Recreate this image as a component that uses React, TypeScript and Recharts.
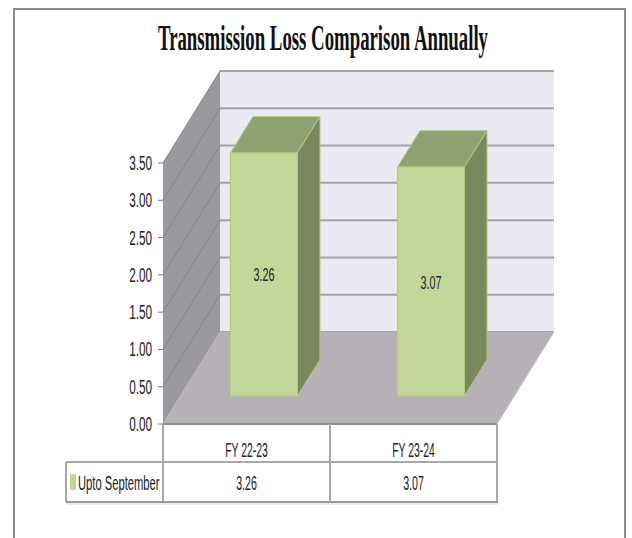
import React from "react";
import * as Recharts from "recharts";
import { BarChart, Bar, XAxis, YAxis, LabelList, Customized } from "recharts";

// chart values
const categories = ["FY 22-23", "FY 23-24"];
const uptoSeptember = [3.26, 3.07];
const seriesName = "Upto September";
const yTicks = [0, 0.5, 1, 1.5, 2, 2.5, 3, 3.5];
const yMax = 3.5;

const data = categories.map((category, i) => ({
  category,
  value: uptoSeptember[i],
}));

// layout of the fake 3D box
const W = 632;
const H = 538;
const Y_AXIS_W = 60;
const X_AXIS_H = 40;
const MARGIN = { top: 163, right: 135, bottom: 538 - 424 - X_AXIS_H, left: 163 - Y_AXIS_W };
const FALLBACK_AREA = { x: 163, y: 163, width: 334, height: 261 };
const DEPTH = { dx: 57, dy: -92 };
const BAR_FRONT = 0.304;
const BAR_BACK = 0.7;

const COLORS = {
  backWall: "#ebe9f1",
  sideWall: "#9b999e",
  floor: "#b5b1b7",
  grid: "#a3a2a6",
  sideGrid: "#86848a",
  barFront: "#c4d79b",
  barTop: "#90a271",
  barSide: "#7a885f",
  barEdge: "#b3cb87",
  table: "#a8a8a8",
  text: "#222",
  border: "#8c8c8c",
};

const FONT = "'Liberation Sans', Arial, sans-serif";

// condensed text (the source picture is squeezed sideways)
const SqText = ({ x, y, size, anchor = "middle", sx = 0.58, children }: any) => (
  <text
    transform={`translate(${x} ${y}) scale(${sx} 1)`}
    fontSize={size}
    fontFamily={FONT}
    textAnchor={anchor}
    fill={COLORS.text}
  >
    {children}
  </text>
);

const usePlot = () => {
  const hook = (Recharts as any).usePlotArea;
  const area = hook ? hook() : null;
  return area ?? FALLBACK_AREA;
};

const TITLE_SX = 0.52;

const Backdrop = () => {
  const area = usePlot();
  const left = area.x;
  const right = area.x + area.width;
  const bottom = area.y + area.height;
  const yOf = (v: number) => area.y + area.height * (1 - v / yMax);
  const { dx, dy } = DEPTH;

  return (
    <g>
      <rect x={14} y={9} width={611} height={560} fill="none" stroke={COLORS.border} strokeWidth={2} />
      <text
        transform={`translate(323 50) scale(${TITLE_SX} 1)`}
        textAnchor="middle"
        fontFamily="'Liberation Serif', 'Times New Roman', serif"
        fontWeight="bold"
        fontSize={35}
        textLength={330 / TITLE_SX}
        lengthAdjust="spacingAndGlyphs"
        fill="#111"
      >
        Transmission Loss Comparison Annually
      </text>

      {/* back wall */}
      <rect x={left + dx} y={yOf(yMax) + dy} width={area.width} height={area.height} fill={COLORS.backWall} />
      {yTicks.map((t) => (
        <line
          key={`g${t}`}
          x1={left + dx}
          x2={right + dx}
          y1={yOf(t) + dy}
          y2={yOf(t) + dy}
          stroke={COLORS.grid}
          strokeWidth={2}
        />
      ))}

      {/* side wall */}
      <polygon
        points={`${left},${yOf(yMax)} ${left + dx},${yOf(yMax) + dy} ${left + dx},${bottom + dy} ${left},${bottom}`}
        fill={COLORS.sideWall}
      />
      {yTicks.slice(1).map((t) => (
        <line
          key={`s${t}`}
          x1={left}
          y1={yOf(t)}
          x2={left + dx}
          y2={yOf(t) + dy}
          stroke={COLORS.sideGrid}
          strokeWidth={1}
        />
      ))}

      {/* floor */}
      <polygon
        points={`${left},${bottom} ${right},${bottom} ${right + dx},${bottom + dy} ${left + dx},${bottom + dy}`}
        fill={COLORS.floor}
      />
      <line x1={right} y1={bottom} x2={right + dx} y2={bottom + dy} stroke="#c9c6cc" strokeWidth={1} />
    </g>
  );
};

const DataTable = () => {
  const area = usePlot();
  const left = area.x;
  const right = area.x + area.width;
  const top = area.y + area.height;
  const band = area.width / categories.length;
  const rowTop = top + 38;
  const rowBottom = rowTop + 40;
  const legendLeft = 66;

  return (
    <g>
      <line x1={left} x2={right} y1={top} y2={top} stroke="#8e8e8e" strokeWidth={2} />
      {categories.map((c, i) => (
        <line key={`v${c}`} x1={left + i * band} x2={left + i * band} y1={top} y2={rowBottom} stroke={COLORS.table} strokeWidth={2} />
      ))}
      <line x1={right} x2={right} y1={top} y2={rowBottom} stroke={COLORS.table} strokeWidth={2} />
      <line x1={legendLeft} x2={legendLeft} y1={rowTop} y2={rowBottom} stroke={COLORS.table} strokeWidth={2} />
      <line x1={legendLeft} x2={right} y1={rowTop} y2={rowTop} stroke={COLORS.table} strokeWidth={2} />
      <line x1={legendLeft} x2={right + 1} y1={rowBottom} y2={rowBottom} stroke="#9a9a9a" strokeWidth={2} />
      <line x1={legendLeft} x2={right + 1} y1={rowBottom + 2} y2={rowBottom + 2} stroke="#dcdcdc" strokeWidth={1} />

      <rect x={70} y={rowTop + 12} width={6} height={16} fill={COLORS.barFront} />
      <SqText x={78} y={rowTop + 28} size={20} anchor="start" sx={0.56}>
        {seriesName}
      </SqText>
      {uptoSeptember.map((v, i) => (
        <SqText key={`t${i}`} x={left + (i + 0.5) * band} y={rowTop + 28} size={20} sx={0.53}>
          {v.toFixed(2)}
        </SqText>
      ))}
    </g>
  );
};

const Bar3D = (props: any) => {
  const { x, y, width, height } = props;
  if (width == null || height == null) return null;
  const ox = DEPTH.dx * BAR_FRONT;
  const oy = DEPTH.dy * BAR_FRONT;
  const bx = DEPTH.dx * (BAR_BACK - BAR_FRONT);
  const by = DEPTH.dy * (BAR_BACK - BAR_FRONT);
  const fx = x + ox;
  const fy = y + oy;
  return (
    <g>
      <polygon
        points={`${fx},${fy} ${fx + width},${fy} ${fx + width + bx},${fy + by} ${fx + bx},${fy + by}`}
        fill={COLORS.barTop}
        stroke={COLORS.barEdge}
        strokeWidth={1}
      />
      <polygon
        points={`${fx + width},${fy} ${fx + width + bx},${fy + by} ${fx + width + bx},${fy + height + by} ${fx + width},${fy + height}`}
        fill={COLORS.barSide}
        stroke={COLORS.barEdge}
        strokeWidth={1}
      />
      <rect x={fx} y={fy} width={width} height={height} fill={COLORS.barFront} stroke={COLORS.barEdge} strokeWidth={1} />
    </g>
  );
};

const BarValueLabel = (props: any) => {
  const { x, y, width, height, value } = props;
  const cx = x + width / 2 + DEPTH.dx * BAR_FRONT;
  const cy = y + height / 2 + DEPTH.dy * BAR_FRONT;
  return (
    <SqText x={cx} y={cy + 7} size={19} sx={0.57}>
      {Number(value).toFixed(2)}
    </SqText>
  );
};

const YTick = (props: any) => {
  const { x, y, payload } = props;
  return (
    <SqText x={x - 4} y={y + 7} size={21} anchor="end" sx={0.56}>
      {Number(payload.value).toFixed(2)}
    </SqText>
  );
};

const XTick = (props: any) => {
  const { x, y, payload } = props;
  return (
    <SqText x={x} y={y + 25} size={20} sx={0.52}>
      {payload.value}
    </SqText>
  );
};

export default function App() {
  return (
    <div style={{ position: "absolute", left: 0, top: 0, width: W, height: H, background: "#fff" }}>
      <BarChart width={W} height={H} data={data} margin={MARGIN} barCategoryGap="30%">
        <Customized component={Backdrop} />
        <XAxis
          dataKey="category"
          height={X_AXIS_H}
          axisLine={false}
          tickLine={false}
          tick={<XTick />}
          interval={0}
        />
        <YAxis
          width={Y_AXIS_W}
          domain={[0, yMax]}
          ticks={yTicks}
          interval={0}
          axisLine={false}
          tickSize={5}
          tickLine={{ stroke: "#7a7a7a" }}
          tick={<YTick />}
        />
        <Bar dataKey="value" name={seriesName} shape={<Bar3D />} isAnimationActive={false}>
          <LabelList dataKey="value" content={<BarValueLabel />} />
        </Bar>
        <Customized component={DataTable} />
      </BarChart>
    </div>
  );
}
